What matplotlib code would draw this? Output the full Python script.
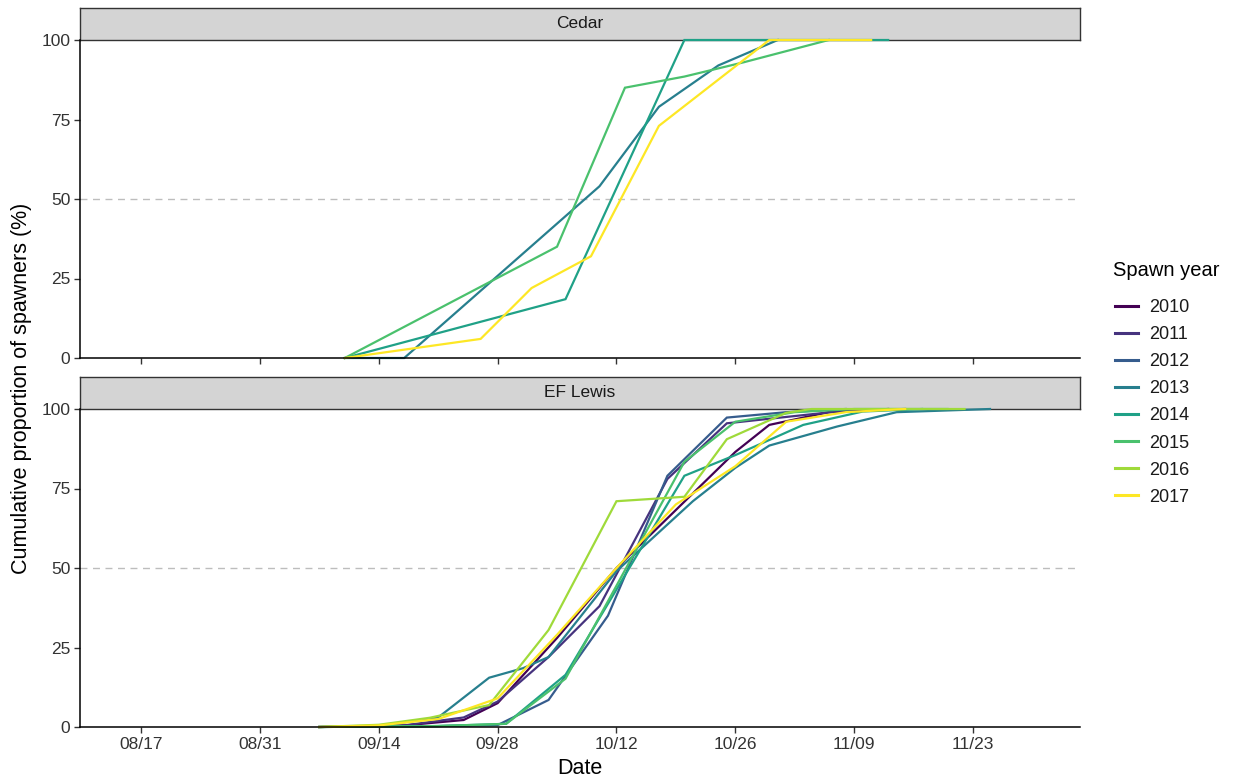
import matplotlib
matplotlib.use("Agg")
import matplotlib.pyplot as plt
import matplotlib.dates as mdates
import pandas as pd

plt.rcParams['font.family'] = ['Liberation Sans', 'DejaVu Sans']

# ---------------- data ----------------
YEARS = [2010, 2011, 2012, 2013, 2014, 2015, 2016, 2017]
PANELS = ["Cedar", "EF Lewis"]
TICK_DATES = ["08/17", "08/31", "09/14", "09/28", "10/12", "10/26", "11/09", "11/23"]
Y_TICKS = [0, 25, 50, 75, 100]

# Cedar
CEDAR_2013_DATES = ["09/10", "09/17", "10/10", "10/17", "10/24", "10/31"]
CEDAR_2013_PCT = [0, 0, 54, 79, 92, 100]
CEDAR_2014_DATES = ["09/10", "10/06", "10/20", "11/13"]
CEDAR_2014_PCT = [0, 18.5, 100, 100]
CEDAR_2015_DATES = ["09/10", "10/05", "10/13", "10/20", "10/27", "11/06"]
CEDAR_2015_PCT = [0, 35, 85, 88.5, 93, 100]
CEDAR_2017_DATES = ["09/10", "09/26", "10/02", "10/09", "10/17", "10/30", "11/11"]
CEDAR_2017_PCT = [0, 6, 22, 32, 73, 100, 100]

# EF Lewis
EFL_2010_DATES = ["09/07", "09/17", "09/24", "09/28", "10/05", "10/12", "10/26", "10/30", "11/06", "11/13"]
EFL_2010_PCT = [0, 0.5, 2.2, 7.5, 28, 50, 86.5, 95, 99, 100]
EFL_2011_DATES = ["09/07", "09/17", "09/24", "09/28", "10/04", "10/10", "10/18", "10/25", "11/01", "11/08", "11/15"]
EFL_2011_PCT = [0, 0.5, 3, 8, 22, 38, 78, 95.5, 97.5, 99.5, 100]
EFL_2012_DATES = ["09/07", "09/21", "09/28", "10/04", "10/11", "10/18", "10/25", "11/01", "11/08"]
EFL_2012_PCT = [0, 0.3, 0.6, 8.5, 35, 79, 97.3, 99, 100]
EFL_2013_DATES = ["09/07", "09/14", "09/21", "09/27", "10/01", "10/04", "10/12", "10/21", "10/26", "10/30", "11/07", "11/14", "11/25"]
EFL_2013_PCT = [0, 0.3, 3, 15.5, 18.5, 22, 49, 71, 81.5, 88.5, 94.5, 99, 100]
EFL_2014_DATES = ["09/07", "09/21", "09/29", "10/06", "10/20", "10/26", "11/03", "11/10", "11/17"]
EFL_2014_PCT = [0, 0.3, 1, 16.4, 79, 85.5, 95, 99.2, 100]
EFL_2015_DATES = ["09/07", "09/21", "09/29", "10/06", "10/20", "10/26", "11/02", "11/09", "11/20"]
EFL_2015_PCT = [0, 0.3, 1, 15.2, 83.4, 96, 99, 100, 100]
EFL_2016_DATES = ["09/07", "09/14", "09/20", "09/27", "10/04", "10/12", "10/20", "10/25", "11/01", "11/04", "11/22"]
EFL_2016_PCT = [0, 0.7, 2.9, 6.9, 30.5, 71, 72.4, 90.5, 98.8, 100, 100]
EFL_2017_DATES = ["09/07", "09/14", "09/21", "09/28", "10/05", "10/12", "10/19", "10/26", "11/01", "11/08", "11/15"]
EFL_2017_PCT = [0, 0.5, 2.5, 9, 29, 50, 70, 82, 96, 99, 100]

SERIES = {
    "Cedar": {
        2013: (CEDAR_2013_DATES, CEDAR_2013_PCT),
        2014: (CEDAR_2014_DATES, CEDAR_2014_PCT),
        2015: (CEDAR_2015_DATES, CEDAR_2015_PCT),
        2017: (CEDAR_2017_DATES, CEDAR_2017_PCT),
    },
    "EF Lewis": {
        2010: (EFL_2010_DATES, EFL_2010_PCT),
        2011: (EFL_2011_DATES, EFL_2011_PCT),
        2012: (EFL_2012_DATES, EFL_2012_PCT),
        2013: (EFL_2013_DATES, EFL_2013_PCT),
        2014: (EFL_2014_DATES, EFL_2014_PCT),
        2015: (EFL_2015_DATES, EFL_2015_PCT),
        2016: (EFL_2016_DATES, EFL_2016_PCT),
        2017: (EFL_2017_DATES, EFL_2017_PCT),
    },
}

# ---------------- style ----------------
COLORS = ["#440154", "#46337E", "#365C8D", "#277F8E",
          "#1FA187", "#4AC16D", "#9FDA3A", "#FDE725"]
YEAR_COLOR = dict(zip(YEARS, COLORS))


def to_dt(md):
    return pd.to_datetime(["2000/" + d for d in md], format="%Y/%m/%d")


W, H = 1238, 782
fig = plt.figure(figsize=(W / 100, H / 100), dpi=100)


def fx(px):
    return px / W


def fy(py):
    return 1 - py / H


panel_boxes = [(40, 358), (409, 727)]
strip_boxes = [(8, 40), (377, 409)]
left_px, right_px = 80, 1080

x_lo = pd.Timestamp("2000-08-17") - pd.Timedelta(days=7.19)
x_hi = pd.Timestamp("2000-11-23") + pd.Timedelta(days=12.6)

tick_dt = to_dt(TICK_DATES)
handles = {}

for i, name in enumerate(PANELS):
    # strip (drawn below the panel so lines at 100 % sit on top of its border)
    st, sb = strip_boxes[i]
    sax = fig.add_axes([fx(left_px), fy(sb), fx(right_px - left_px), (sb - st) / H])
    sax.set_zorder(1)
    sax.set_facecolor("#D4D4D4")
    sax.set_xticks([])
    sax.set_yticks([])
    for s in sax.spines.values():
        s.set_color("#333333")
        s.set_linewidth(1.0)
    sax.text(0.5, 0.5, name, ha="center", va="center", fontsize=12.5,
             color="#1A1A1A", transform=sax.transAxes)

    top, bot = panel_boxes[i]
    ax = fig.add_axes([fx(left_px), fy(bot), fx(right_px - left_px), (bot - top) / H])
    ax.set_zorder(2)
    ax.patch.set_alpha(0)
    ax.axhline(50, color="#BDBDBD", lw=1.0, ls=(0, (5, 4)), zorder=1)
    for yr in YEARS:
        if yr in SERIES[name]:
            d, p = SERIES[name][yr]
            ln, = ax.plot(to_dt(d), p, color=YEAR_COLOR[yr], lw=1.6,
                          solid_joinstyle="miter", clip_on=False,
                          zorder=2 + YEARS.index(yr) * 0.01)
            handles.setdefault(yr, ln)
    ax.set_xlim(x_lo, x_hi)
    ax.set_ylim(0, 100)
    ax.set_yticks(Y_TICKS)
    ax.set_xticks(tick_dt)
    ax.xaxis.set_major_formatter(mdates.DateFormatter("%m/%d"))
    for s in ["top", "right"]:
        ax.spines[s].set_visible(False)
    for s in ["left", "bottom"]:
        ax.spines[s].set_linewidth(1.1)
        ax.spines[s].set_color("black")
    ax.tick_params(axis="both", length=4, width=1.0, color="#333333",
                   labelsize=12.5, labelcolor="#333333", pad=3)
    if i == 0:
        ax.tick_params(axis="x", labelbottom=False)

fig.text(fx(580), fy(768), "Date", ha="center", va="center", fontsize=15.5, color="black")
fig.text(fx(22), fy(388), "Cumulative proportion of spawners (%)", ha="center", va="center",
         rotation=90, fontsize=15.5, color="black")

fig.text(fx(1113), fy(270), "Spawn year", ha="left", va="center", fontsize=14.5, color="black")
hl = [handles[y] for y in YEARS]
leg = fig.legend(hl, [str(y) for y in YEARS], loc="upper left",
                 bbox_to_anchor=(fx(1106), fy(290)), frameon=False,
                 fontsize=13, handlelength=1.25, handletextpad=0.65,
                 labelspacing=0.56, borderpad=0)
for t in leg.get_texts():
    t.set_color("#1A1A1A")
for l in leg.get_lines():
    l.set_linewidth(2.2)

fig.savefig("out.png", dpi=100, facecolor="white")
